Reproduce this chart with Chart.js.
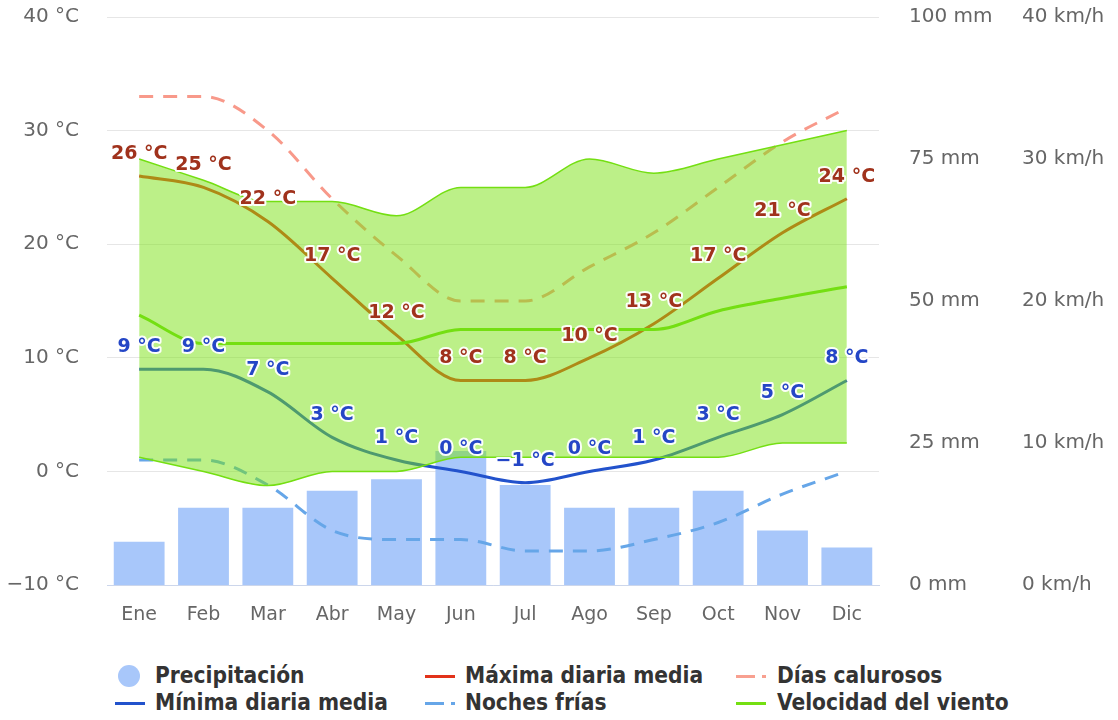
<!DOCTYPE html>
<html>
<head>
<meta charset="utf-8">
<script src="https://cdn.jsdelivr.net/npm/chart.js@4.4.1/dist/chart.umd.min.js"></script>
<style>
  html, body { margin: 0; padding: 0; background: #fff; }
  #wrap { position: relative; width: 1118px; height: 720px; }
  #c { position: absolute; left: 0; top: 0; }
  .lg { position: absolute; font-family: "DejaVu Sans Condensed", "DejaVu Sans", sans-serif; font-stretch: condensed; font-weight: bold; font-size: 22.5px; color: #333; white-space: nowrap; line-height: 26px; }
  .mk { position: absolute; }
</style>
</head>
<body>
<div id="wrap">
  <canvas id="c" width="1118" height="645"></canvas>
  <div id="legend"></div>
</div>
<script>
const months = ["Ene","Feb","Mar","Abr","May","Jun","Jul","Ago","Sep","Oct","Nov","Dic"];
const precipitation = [7.6, 13.6, 13.6, 16.6, 18.6, 23.6, 17.6, 13.6, 13.6, 16.6, 9.6, 6.6];
const maxTemp = [26, 25, 22, 17, 12, 8, 8, 10, 13, 17, 21, 24];
const minTemp = [9, 9, 7, 3, 1, 0, -1, 0, 1, 3, 5, 8];
const hotDays = [33, 33, 30, 24, 19, 15, 15, 18, 21, 25, 29, 32];
const coldNights = [1, 1, -1.2, -5.2, -6, -6, -7, -7, -6, -4.5, -2, 0];
const windMean = [19, 17, 17, 17, 17, 18, 18, 18, 18, 19.3, 20.2, 21];
const windMax = [30, 28.5, 27, 27, 26, 28, 28, 30, 29, 30, 31, 32];
const windMin = [9, 8, 7, 8, 8, 9, 9, 9, 9, 9, 10, 10];
const tempTicks = [-10, 0, 10, 20, 30, 40];
const precipTicks = [0, 25, 50, 75, 100];
const windTicks = [0, 10, 20, 30, 40];

const FONT = '"DejaVu Sans", sans-serif';
const fmtC = v => (v < 0 ? '\u2212' + Math.abs(v) : String(v)) + ' °C';

const green = '#74df12';
const fillGreen = 'rgba(122, 225, 18, 0.5)';

const labelPlugin = {
  id: 'tempLabels',
  afterDatasetsDraw(chart) {
    const ctx = chart.ctx;
    ctx.save();
    ctx.font = 'bold 19px ' + FONT;
    ctx.textAlign = 'center';
    ctx.textBaseline = 'middle';
    ctx.lineJoin = 'round';
    [[3, '#a0321c'], [4, '#2446c6']].forEach(([idx, col]) => {
      const meta = chart.getDatasetMeta(idx);
      const data = chart.data.datasets[idx].data;
      meta.data.forEach((pt, i) => {
        const t = fmtC(data[i]);
        ctx.lineWidth = 4;
        ctx.strokeStyle = 'rgba(255,255,255,0.95)';
        ctx.strokeText(t, pt.x, pt.y - 22);
        ctx.fillStyle = col;
        ctx.fillText(t, pt.x, pt.y - 22);
      });
    });
    ctx.restore();
  }
};

const lineBase = { pointRadius: 0, pointHoverRadius: 0, cubicInterpolationMode: 'monotone', fill: false };
const noPad = s => { s.paddingTop = 0; s.paddingBottom = 0; };

new Chart(document.getElementById('c'), {
  type: 'bar',
  data: {
    labels: months,
    datasets: [
      Object.assign({}, lineBase, { type: 'line', label: 'Velocidad del viento', data: windMean, yAxisID: 'y2', borderColor: green, borderWidth: 3, order: 1 }),
      Object.assign({}, lineBase, { type: 'line', label: 'wmax', data: windMax, yAxisID: 'y2', borderColor: green, borderWidth: 1.5, backgroundColor: fillGreen, fill: { target: 2 }, order: 2 }),
      Object.assign({}, lineBase, { type: 'line', label: 'wmin', data: windMin, yAxisID: 'y2', borderColor: green, borderWidth: 1.5, order: 1.5 }),
      Object.assign({}, lineBase, { type: 'line', label: 'Máxima diaria media', data: maxTemp, yAxisID: 'y', borderColor: '#e2321a', borderWidth: 3, order: 5 }),
      Object.assign({}, lineBase, { type: 'line', label: 'Mínima diaria media', data: minTemp, yAxisID: 'y', borderColor: '#2252cc', borderWidth: 3, order: 5 }),
      Object.assign({}, lineBase, { type: 'line', label: 'Días calurosos', data: hotDays, yAxisID: 'y', borderColor: '#f8998a', borderWidth: 3, borderDash: [14, 10], order: 6 }),
      Object.assign({}, lineBase, { type: 'line', label: 'Noches frías', data: coldNights, yAxisID: 'y', borderColor: '#66a6e8', borderWidth: 3, borderDash: [14, 10], order: 6 }),
      { type: 'bar', label: 'Precipitación', data: precipitation, yAxisID: 'y1', backgroundColor: '#a8c7fa', borderWidth: 0, barPercentage: 0.79, categoryPercentage: 1, order: 10 }
    ]
  },
  options: {
    responsive: false,
    animation: false,
    events: [],
    layout: { padding: { top: 17, left: 0, right: 0, bottom: 0 } },
    plugins: { legend: { display: false }, tooltip: { enabled: false } },
    scales: {
      x: {
        offset: true,
        grid: { display: false, drawTicks: false },
        border: { display: true, color: '#ccd6eb', width: 1 },
        ticks: { color: '#666', font: { family: FONT, size: 19 }, padding: 19, maxRotation: 0 },
        afterFit(s) { s.height = 60; }
      },
      y: {
        position: 'left', min: -10, max: 40,
        afterBuildTicks(s) { s.ticks = tempTicks.map(v => ({ value: v })); },
        ticks: { color: '#666', font: { family: FONT, size: 20 }, padding: 28, callback: v => fmtC(v) },
        grid: { color: '#e6e6e6', lineWidth: 1, drawTicks: false },
        border: { display: false },
        afterFit(s) { s.width = 107; noPad(s); }
      },
      y1: {
        position: 'right', min: 0, max: 100, weight: 0,
        afterBuildTicks(s) { s.ticks = precipTicks.map(v => ({ value: v })); },
        ticks: { color: '#666', font: { family: FONT, size: 20 }, padding: 30, callback: v => v + ' mm' },
        grid: { display: false, drawTicks: false },
        border: { display: false },
        afterFit(s) { s.width = 113; noPad(s); }
      },
      y2: {
        position: 'right', min: 0, max: 40, weight: 1,
        afterBuildTicks(s) { s.ticks = windTicks.map(v => ({ value: v })); },
        ticks: { color: '#666', font: { family: FONT, size: 20 }, padding: 30, callback: v => v + ' km/h' },
        grid: { display: false, drawTicks: false },
        border: { display: false },
        afterFit(s) { s.width = 126; noPad(s); }
      }
    }
  },
  plugins: [labelPlugin]
});

// Legend (HTML)
const legendItems = [
  { text: 'Precipitación', kind: 'circle', color: '#a8c7fa', mx: 118, tx: 155, row: 0 },
  { text: 'Máxima diaria media', kind: 'line', color: '#e2321a', mx: 425, tx: 465, row: 0 },
  { text: 'Días calurosos', kind: 'dash', color: '#f8a090', mx: 736, tx: 777, row: 0 },
  { text: 'Mínima diaria media', kind: 'line', color: '#2252cc', mx: 115, tx: 155, row: 1 },
  { text: 'Noches frías', kind: 'dash', color: '#66a6e8', mx: 425, tx: 465, row: 1 },
  { text: 'Velocidad del viento', kind: 'line', color: green, mx: 736, tx: 777, row: 1 }
];
const rowCenter = [676, 703];
const rowTextTop = [662, 689];
const lg = document.getElementById('legend');
legendItems.forEach(it => {
  const m = document.createElement('div');
  m.className = 'mk';
  const cy = rowCenter[it.row];
  if (it.kind === 'circle') {
    Object.assign(m.style, { left: it.mx + 'px', top: (cy - 11) + 'px', width: '22px', height: '22px', borderRadius: '11px', background: it.color });
  } else if (it.kind === 'line') {
    Object.assign(m.style, { left: it.mx + 'px', top: (cy - 1.5) + 'px', width: '30px', height: '3px', background: it.color });
  } else {
    Object.assign(m.style, { left: it.mx + 'px', top: (cy - 1.5) + 'px', width: '30px', height: '3px',
      background: `linear-gradient(to right, ${it.color} 0 19px, transparent 19px 26px, ${it.color} 26px 30px)` });
  }
  lg.appendChild(m);
  const t = document.createElement('div');
  t.className = 'lg';
  t.textContent = it.text;
  Object.assign(t.style, { left: it.tx + 'px', top: rowTextTop[it.row] + 'px' });
  lg.appendChild(t);
});
</script>
</body>
</html>
